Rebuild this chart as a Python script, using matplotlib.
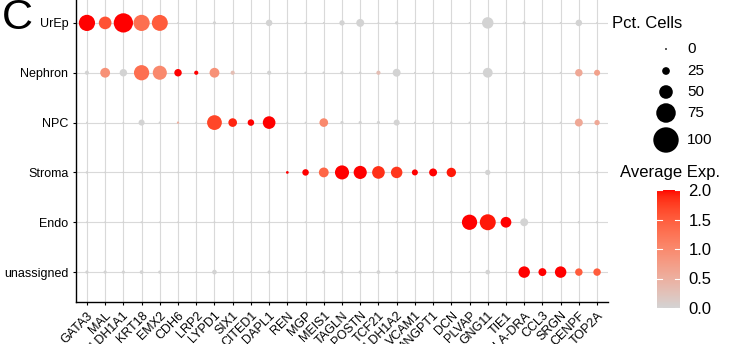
import matplotlib
matplotlib.use("Agg")
import matplotlib.pyplot as plt
import numpy as np
from matplotlib.colors import ListedColormap, Normalize
from matplotlib.cm import ScalarMappable

plt.rcParams['font.family'] = ['Liberation Sans', 'DejaVu Sans']

genes = ['GATA3', 'MAL', 'ALDH1A1', 'KRT18', 'EMX2', 'CDH6', 'LRP2', 'LYPD1', 'SIX1',
         'CITED1', 'DAPL1', 'REN', 'MGP', 'MEIS1', 'TAGLN', 'POSTN', 'TCF21', 'ALDH1A2',
         'VCAM1', 'ANGPT1', 'DCN', 'PLVAP', 'GNG11', 'TIE1', 'HLA-DRA', 'CCL3', 'SRGN',
         'CENPF', 'TOP2A']
clusters = ['unassigned', 'Endo', 'Stroma', 'NPC', 'Nephron', 'UrEp']

# percent of cells expressing, per cluster
pct_urep = [61, 46, 74, 61, 60, 0, 0, 6, 0, 0, 20, 0, 2, 0, 15, 26, 0, 6, 0, 0, 2, 0, 41, 0, 6, 0, 0, 20, 0]
pct_nephron = [10, 34, 24, 57, 52, 24, 10, 34, 10, 0, 10, 0, 2, 3, 6, 3, 10, 26, 0, 2, 2, 0, 34, 0, 2, 0, 0, 24, 18]
pct_npc = [0, 0, 0, 18, 2, 2, 0, 55, 29, 20, 46, 0, 0, 29, 6, 6, 6, 18, 0, 0, 2, 1, 1, 0, 2, 0, 0, 26, 15]
pct_stroma = [3, 0, 0, 0, 0, 0, 0, 2, 0, 0, 2, 4, 20, 34, 52, 48, 46, 41, 18, 26, 32, 0, 15, 0, 0, 0, 0, 3, 3]
pct_endo = [0, 0, 0, 1, 0, 0, 0, 1, 0, 0, 1, 0, 0, 0, 2, 2, 2, 0, 0, 0, 1, 57, 60, 38, 26, 0, 0, 2, 2]
pct_unassigned = [6, 6, 6, 8, 6, 0, 0, 12, 0, 0, 6, 0, 0, 6, 6, 6, 8, 6, 0, 2, 4, 0, 12, 0, 41, 26, 41, 24, 24]

# scaled average expression, per cluster
exp_urep = [2.0, 1.6, 2.0, 1.3, 1.5, 0, 0, 0, 0, 0, 0, 0, 0, 0, 0, 0, 0, 0, 0, 0, 0, 0, 0, 0, 0, 0, 0, 0, 0]
exp_nephron = [0, 0.9, 0, 1.3, 1.0, 2.0, 2.0, 0.9, 0.3, 0, 0, 0, 0, 0, 0, 0, 0.3, 0, 0, 0, 0, 0, 0, 0, 0, 0, 0, 0.6, 0.7]
exp_npc = [0, 0, 0, 0, 0, 0.5, 0, 1.7, 1.9, 2.0, 2.0, 0, 0, 1.0, 0, 0, 0, 0, 0, 0, 0, 0, 0, 0, 0, 0, 0, 0.6, 0.6]
exp_stroma = [0, 0, 0, 0, 0, 0, 0, 0, 0, 0, 0, 2.0, 2.0, 1.4, 2.0, 2.0, 1.85, 1.8, 2.0, 2.0, 1.95, 0, 0, 0, 0, 0, 0, 0, 0]
exp_endo = [0, 0, 0, 0, 0, 0, 0, 0, 0, 0, 0, 0, 0, 0, 0, 0, 0, 0, 0, 0, 0, 2.0, 1.95, 2.0, 0, 0, 0, 0, 0]
exp_unassigned = [0, 0, 0, 0, 0, 0, 0, 0, 0, 0, 0, 0, 0, 0, 0, 0, 0, 0, 0, 0, 0, 0, 0, 0, 2.0, 2.0, 2.0, 1.5, 1.5]

size_breaks = [0, 25, 50, 75, 100]
color_ticks = [0.0, 0.5, 1.0, 1.5, 2.0]

W, H = 746, 344


def px(x, y):
    # pixel position (from top-left) to figure fraction
    return x / W, 1 - y / H


# lightgrey -> red gradient, interpolated in Lab space
M = np.array([[0.4124564, 0.3575761, 0.1804375],
              [0.2126729, 0.7151522, 0.0721750],
              [0.0193339, 0.1191920, 0.9503041]])
WHITE = np.array([0.95047, 1.0, 1.08883])
D = 6 / 29


def to_lab(rgb):
    c = np.asarray(rgb, float)
    lin = np.where(c <= 0.04045, c / 12.92, ((c + 0.055) / 1.055) ** 2.4)
    t = (M @ lin) / WHITE
    f = np.where(t > D ** 3, np.cbrt(t), t / (3 * D ** 2) + 4 / 29)
    return np.array([116 * f[1] - 16, 500 * (f[0] - f[1]), 200 * (f[1] - f[2])])


def from_lab(lab):
    fy = (lab[..., 0] + 16) / 116
    fx = fy + lab[..., 1] / 500
    fz = fy - lab[..., 2] / 200
    f = np.stack([fx, fy, fz], -1)
    t = np.where(f > D, f ** 3, 3 * D ** 2 * (f - 4 / 29)) * WHITE
    lin = t @ np.linalg.inv(M).T
    lin = np.clip(lin, 0, 1)
    c = np.where(lin <= 0.0031308, 12.92 * lin, 1.055 * lin ** (1 / 2.4) - 0.055)
    return np.clip(c, 0, 1)


lo, hi = to_lab([211 / 255] * 3), to_lab([1, 0, 0])
w = np.linspace(0, 1, 256)[:, None]
cmap = ListedColormap(from_lab(lo * (1 - w) + hi * w))
norm = Normalize(0, 2.0)


def dot_size(pct):
    # radius scale plus a small stroke, so 0% still leaves a speck
    d_px = 1.8 + 0.236 * np.asarray(pct, float)
    return (d_px * 72 / 100) ** 2


pct_rows = [pct_unassigned, pct_endo, pct_stroma, pct_npc, pct_nephron, pct_urep]
exp_rows = [exp_unassigned, exp_endo, exp_stroma, exp_npc, exp_nephron, exp_urep]

fig = plt.figure(figsize=(W / 100, H / 100), dpi=100)
x0, y0 = px(76, 302)
x1, y1 = px(608, -7)
ax = fig.add_axes([x0, y0, x1 - x0, y1 - y0])

xs, ys, ss, cs = [], [], [], []
for r, (p, e) in enumerate(zip(pct_rows, exp_rows)):
    xs += list(range(len(genes)))
    ys += [r] * len(genes)
    ss += list(p)
    cs += list(e)
ax.scatter(xs, ys, s=dot_size(ss), c=cs, cmap=cmap, norm=norm, linewidths=0, zorder=3)

ax.set_xlim(-0.6, len(genes) - 0.4)
ax.set_ylim(-0.6, len(clusters) - 0.4)
ax.set_xticks(range(len(genes)))
ax.set_xticklabels(genes, rotation=45, ha='right', va='top', rotation_mode='anchor', fontsize=9)
ax.set_yticks(range(len(clusters)))
ax.set_yticklabels(clusters, fontsize=9)
ax.grid(True, color='#d9d9d9', linewidth=0.8)
ax.set_axisbelow(True)
for side in ['top', 'right']:
    ax.spines[side].set_visible(False)
for side in ['left', 'bottom']:
    ax.spines[side].set_linewidth(1.0)
ax.tick_params(length=2.5, width=0.8, pad=3, colors='black')

# panel letter
fig.text(*px(2, 29), 'C', fontsize=31, ha='left', va='baseline')

# size legend
fig.text(*px(612, 23), 'Pct. Cells', fontsize=12, ha='left', va='center')
leg_y = [49, 71, 92, 113, 140]
leg_ax = fig.add_axes([0, 0, 1, 1], facecolor='none')
leg_ax.set_xlim(0, W)
leg_ax.set_ylim(H, 0)
leg_ax.axis('off')
leg_ax.scatter([666] * len(size_breaks), leg_y, s=dot_size(size_breaks), c='black', linewidths=0)
for v, y in zip(size_breaks, leg_y):
    leg_ax.text(687, y, str(v), fontsize=11, ha='left', va='center')

# colour legend
fig.text(*px(620, 173), 'Average Exp.', fontsize=12, ha='left', va='center')
cx0, cy0 = px(657, 308)
cx1, cy1 = px(680, 190)
cax = fig.add_axes([cx0, cy0, cx1 - cx0, cy1 - cy0])
cb = fig.colorbar(ScalarMappable(norm=norm, cmap=cmap), cax=cax, ticks=color_ticks)
cb.outline.set_visible(False)
cb.ax.tick_params(length=0, pad=6, labelsize=12)
cb.ax.set_yticklabels([f'{t:.1f}' for t in color_ticks])
for t in color_ticks:
    cax.plot([0, 0.2], [t, t], color='white', lw=0.8, transform=cax.get_yaxis_transform())
    cax.plot([0.8, 1.0], [t, t], color='white', lw=0.8, transform=cax.get_yaxis_transform())

fig.savefig('out.png', dpi=100)
